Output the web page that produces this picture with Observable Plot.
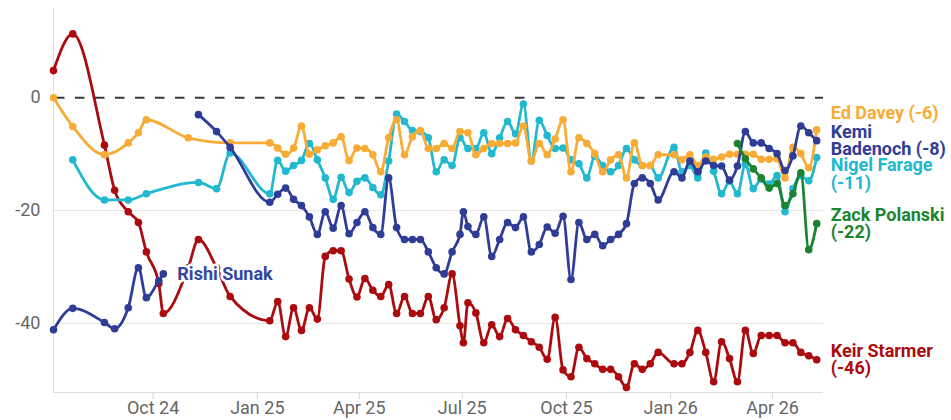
<!DOCTYPE html>
<html><head><meta charset="utf-8">
<script src="https://cdn.jsdelivr.net/npm/d3@7"></script>
<script src="https://cdn.jsdelivr.net/npm/@observablehq/plot@0.6"></script>
<style>
html,body{margin:0;padding:0;background:#fff;}
#chart{width:951px;height:420px;}
</style></head><body><div id="chart"></div>
<script>
// Poll dates (shared by all series)
const dates = [
"2024-07-05","2024-07-22","2024-08-19","2024-08-28","2024-09-09","2024-09-18","2024-09-25","2024-10-06","2024-10-10","2024-11-01","2024-11-10","2024-11-26","2024-12-08",
"2025-01-12","2025-01-19","2025-01-26","2025-02-02","2025-02-09","2025-02-16","2025-02-23","2025-03-02","2025-03-09","2025-03-16","2025-03-23","2025-03-30","2025-04-06","2025-04-13","2025-04-20","2025-04-27","2025-05-04","2025-05-11","2025-05-18","2025-05-25","2025-06-01","2025-06-08","2025-06-15","2025-06-22","2025-06-29","2025-07-02","2025-07-06","2025-07-13","2025-07-20","2025-07-27","2025-08-03","2025-08-10","2025-08-17","2025-08-24","2025-08-31","2025-09-07","2025-09-14","2025-09-21","2025-09-28","2025-10-05","2025-10-12","2025-10-19","2025-10-26","2025-11-02","2025-11-09","2025-11-16","2025-11-23","2025-11-30","2025-12-07","2025-12-14","2025-12-21",
"2026-01-04","2026-01-11","2026-01-18","2026-01-25","2026-02-01","2026-02-08","2026-02-15","2026-02-22","2026-03-01","2026-03-08","2026-03-15","2026-03-22","2026-03-29","2026-04-05","2026-04-12","2026-04-19","2026-04-26","2026-05-03","2026-05-10"
];

const starmer = [
4.8, 11.3, -8.4, -16.4, -20.2, -22.1, -27.3, -32.9, -38.2, -30.1, -25.1, -30.1, -35.2,
-39.5, -36.1, -42.3, -37.2, -41.2, -37.2, -39.2, -28.1, -27.1, -27.1, -32.1, -35.3, -32.0, -34.1, -35.2, -33.1, -38.2, -35.2, -38.2, -38.2, -35.2, -39.3, -37.2, -31.2, -40.4, -43.4, -36.3, -38.1, -43.4, -40.2, -42.3, -39.1, -41.1, -42.1, -43.2, -44.2, -46.3, -38.9, -48.2, -49.4, -44.2, -46.2, -47.1, -48.1, -48.1, -49.4, -51.3, -47.1, -48.1, -47.1, -45.1,
-47.1, -47.1, -45.1, -41.2, -45.1, -50.3, -43.2, -46.2, -50.3, -41.2, -45.3, -42.1, -42.1, -42.1, -43.4, -43.4, -45.1, -45.7, -46.4
];

const sunak = [
-41.1, -37.3, -39.8, -40.9, -37.2, -30.1, -35.4, -32.4, -31.2
];

const badenoch = [
null, null, null, null, null, null, null, null, null, null, -3.0, -6.0, -8.8,
-18.5, -17.1, -16.0, -18.0, -19.1, -21.1, -24.2, -20.2, -23.1, -19.1, -24.1, -22.1, -20.2, -23.0, -24.2, -14.2, -23.0, -25.1, -25.1, -25.1, -27.3, -30.1, -31.2, -27.3, -24.2, -20.2, -22.8, -24.2, -21.1, -28.1, -25.1, -22.1, -23.0, -21.1, -27.3, -26.0, -22.9, -24.0, -21.0, -32.2, -22.1, -25.1, -24.2, -26.2, -25.1, -24.2, -22.3, -15.2, -14.2, -15.2, -18.1,
-13.1, -14.2, -11.2, -13.1, -11.2, -12.0, -12.1, -14.6, -12.1, -6.0, -8.0, -8.0, -9.0, -9.9, -12.9, -10.3, -5.0, -6.2, -7.6
];

const farage = [
null, -11.0, -18.1, null, -18.1, null, -17.0, null, null, null, -15.0, -16.1, -9.8,
-17.0, -11.1, -13.0, -12.0, -11.1, -8.1, -11.0, -14.2, -18.0, -14.1, -16.8, -14.8, -14.2, -15.9, -17.2, -11.2, -2.9, -4.2, -5.8, -6.0, -7.1, -13.1, -11.0, -12.0, -7.1, null, -9.0, -9.0, -6.2, -9.9, -7.1, -4.2, -6.4, -1.1, -11.2, -4.0, -6.7, -9.0, -8.9, -11.0, -11.7, -14.2, -10.4, -12.0, -13.1, -12.0, -9.0, -11.0, -12.0, -12.0, -14.2,
-8.8, -13.1, -12.0, -14.2, -9.8, -13.0, -17.0, -14.8, -17.0, -11.8, -16.1, -14.4, -15.3, -13.8, -20.2, -16.1, -13.8, -14.7, -10.6
];

const davey = [
0, -5.1, -10.1, null, -8.0, -6.2, -3.9, null, null, -7.1, null, null, -8.0,
-8.0, -8.9, -10.0, -8.9, -5.0, -10.0, -9.2, -8.5, -8.0, -6.9, -11.1, -8.9, -9.0, -10.1, -13.1, -7.1, -3.9, -10.1, -6.9, -5.8, -9.0, -9.0, -8.1, -9.0, -6.0, null, -6.2, -10.1, -9.0, -8.1, -8.1, -8.1, -8.0, -5.0, -11.2, -8.1, -10.1, -7.3, -3.9, -13.1, -7.1, -8.1, -9.9, -13.1, -11.0, -10.1, -14.2, -8.0, -12.0, -12.0, -10.1,
-10.1, -11.0, -10.1, -12.0, -10.5, -10.9, -10.5, -10.0, -10.0, -10.0, -10.0, -10.9, -10.9, -10.8, -14.2, -8.8, -9.9, -12.4, -5.7
];

const polanski = [
null, null, null, null, null, null, null, null, null, null, null, null, null,
null, null, null, null, null, null, null, null, null, null, null, null, null, null, null, null, null, null, null, null, null, null, null, null, null, null, null, null, null, null, null, null, null, null, null, null, null, null, null, null, null, null, null, null, null, null, null, null, null, null, null,
null, null, null, null, null, null, null, null, -8.1, -10.8, -12.6, -14.2, -16.0, -15.2, -19.1, -17.0, -13.3, -26.9, -22.3
];

const xTickDates = ["2024-10-01","2025-01-01","2025-04-01","2025-07-01","2025-10-01","2026-01-01","2026-04-01"];
const yTickValues = [0, -20, -40];
const xDomain = ["2024-07-05","2026-05-16"];
const yDomain = [-52.2, 15.8];

const parse = d3.utcParse("%Y-%m-%d");
const font = "Roboto, 'Noto Sans', sans-serif";

// series drawing config (drawing order)
const series = [
  {name:"Keir Starmer", values: starmer,  color:"#ab0b0f", sep:"\n", nudge: 0},
  {name:"Nigel Farage", values: farage,   color:"#22b8cf", sep:"\n", nudge: -3.0},
  {name:"Ed Davey",     values: davey,    color:"#f8ab35", sep:" ",  nudge: 2.9},
  {name:"Rishi Sunak",  values: sunak,    color:"#2f3d97", sep:null, nudge: 0, labelColor:"#3547a0"},
  {name:"Kemi\nBadenoch", values: badenoch, color:"#2f3d97", sep:" ", nudge: 0},
  {name:"Zack Polanski", values: polanski, color:"#1c8430", sep:"\n", nudge: 0}
];

const marks = [];
// gridlines (except zero)
marks.push(Plot.ruleY(yTickValues.filter(v => v !== 0), {stroke:"#e4e4e4", strokeWidth:1}));
// left axis line & baseline
marks.push(Plot.ruleX([parse(xDomain[0])], {stroke:"#dedede", strokeWidth:1}));
marks.push(Plot.ruleY([yDomain[0]], {stroke:"#dedede", strokeWidth:1}));
// zero line
marks.push(Plot.ruleY([0], {stroke:"#3a3a3a", strokeWidth:2, strokeDasharray:"9.5,10.5", strokeDashoffset: -2}));

marks.push(Plot.axisX({ticks: xTickDates.map(parse), tickFormat: d3.utcFormat("%b %y"), tickSize: 7, tickPadding: 2, stroke:"#d6d6d6", fill:"#666", fontSize: 18, label: null}));
marks.push(Plot.axisY({ticks: yTickValues, tickFormat: d => String(d), tickSize: 0, tickPadding: 13, fill:"#666", fontSize: 18, label: null}));

const labelMarks = [];
for (const s of series) {
  const rows = dates.map((d, i) => ({date: parse(d), value: s.values[i]}))
                    .filter(r => r.value !== null && r.value !== undefined);
  marks.push(Plot.line(rows, {x:"date", y:"value", stroke: s.color, strokeWidth: 2.8, curve: "monotone-x"}));
  marks.push(Plot.dot(rows, {x:"date", y:"value", r: 3.8, fill: s.color, stroke: "none"}));
  const last = rows[rows.length - 1];
  const text = s.sep === null ? s.name : `${s.name}${s.sep}(${Math.round(last.value)})`;
  labelMarks.push(Plot.text([last], {
    x:"date", y: d => d.value + s.nudge, text: () => text,
    dx: 14, textAnchor:"start", lineAnchor:"middle", lineHeight: 0.97,
    fill: s.labelColor || s.color, fontWeight: 700, fontSize: 18, fontFamily: font,
    stroke: s.sep === null ? "white" : null, strokeWidth: 5
  }));
}
marks.push(...labelMarks);

const chart = Plot.plot({
  width: 951, height: 420,
  marginLeft: 53, marginRight: 128, marginTop: 8, marginBottom: 28,
  style: {fontFamily: font, fontSize: "18px", color: "#666", background: "#fff", overflow: "visible"},
  x: {type: "utc", domain: xDomain.map(parse)},
  y: {domain: yDomain},
  marks
});
document.getElementById("chart").append(chart);
</script>
</body></html>
